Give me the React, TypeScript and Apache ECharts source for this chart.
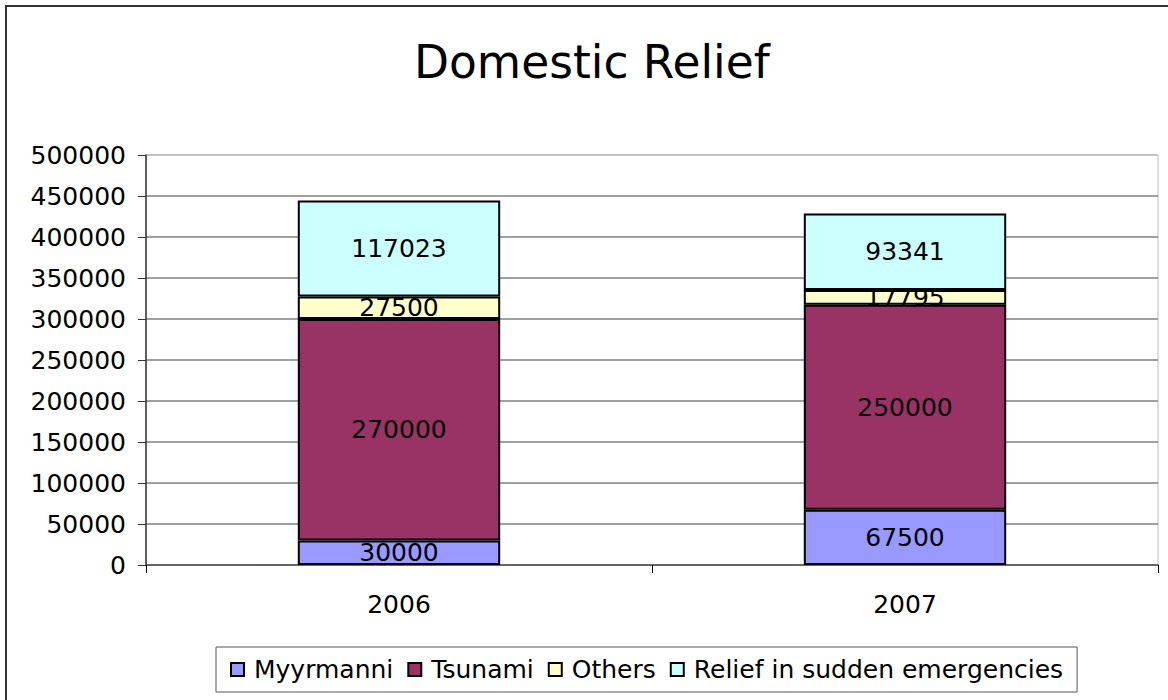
import React, { useEffect, useRef } from "react";
import * as echarts from "echarts";

const categories = ["2006", "2007"];
const seriesNames = ["Myyrmanni", "Tsunami", "Others", "Relief in sudden emergencies"];
const myyrmanni = [30000, 67500];
const tsunami = [270000, 250000];
const others = [27500, 17795];
const relief = [117023, 93341];
const seriesColors = ["#9999FF", "#993366", "#FFFFCC", "#CCFFFF"];
const yMin = 0;
const yMax = 500000;
const yInterval = 50000;

const FONT = "DejaVu Sans";

export default function App() {
  const ref = useRef<HTMLDivElement>(null);
  useEffect(() => {
    if (!ref.current) return;
    const chart = echarts.init(ref.current, null, { renderer: "svg" });
    const values = [myyrmanni, tsunami, others, relief];
    const gridColors = ["#808080", "#808080", "#808080", "#808080", "#808080", "#808080", "#808080", "#808080", "#808080", "#808080", "#b8b8b8"];
    chart.setOption({
      animation: false,
      backgroundColor: "#ffffff",
      textStyle: { fontFamily: FONT },
      title: {
        text: "Domestic Relief",
        left: 414,
        top: 39,
        padding: 0,
        textStyle: { fontFamily: FONT, fontSize: 45.5, fontWeight: "normal", color: "#000" },
      },
      graphic: [
        {
          type: "rect",
          shape: { x: 6, y: 6, width: 1180, height: 720 },
          style: { fill: "none", stroke: "#333", lineWidth: 2 },
          silent: true,
          z: 100,
        },
      ],
      grid: {
        left: 146,
        right: 10,
        top: 155,
        bottom: 135,
        show: true,
        borderColor: "#bdbdbd",
        borderWidth: 1,
        containLabel: false,
      },
      legend: {
        data: seriesNames,
        left: 216,
        top: 647,
        orient: "horizontal",
        padding: [10, 14, 10, 14],
        borderColor: "#555",
        borderWidth: 1,
        itemWidth: 13,
        itemHeight: 13,
        itemGap: 14,
        icon: "rect",
        textStyle: { fontFamily: FONT, fontSize: 25, color: "#000", padding: [0, 0, 0, 5] },
      },
      xAxis: {
        type: "category",
        data: categories,
        axisLine: { lineStyle: { color: "#555", width: 1.5 } },
        axisTick: { show: true, length: 8, inside: false, lineStyle: { color: "#000" } },
        axisLabel: { fontFamily: FONT, fontSize: 25, color: "#000", margin: 27 },
        splitLine: { show: false },
      },
      yAxis: {
        type: "value",
        min: yMin,
        max: yMax,
        interval: yInterval,
        axisLine: { show: true, lineStyle: { color: "#333", width: 1.5 } },
        axisTick: { show: true, length: 8, lineStyle: { color: "#333" } },
        axisLabel: {
          fontFamily: FONT,
          fontSize: 25,
          color: "#000",
          margin: 20,
          formatter: (v: number) => String(v),
        },
        splitLine: { show: true, lineStyle: { color: gridColors, width: 1.5 } },
      },
      series: seriesNames.map((name, i) => ({
        name,
        type: "bar",
        stack: "total",
        data: values[i],
        barCategoryGap: "60%",
        itemStyle: { color: seriesColors[i], borderColor: "#000", borderWidth: 2 },
        label: {
          show: true,
          position: "inside",
          fontFamily: FONT,
          fontSize: 25,
          color: "#000",
          formatter: (p: any) => String(p.value),
        },
      })),
    });
    return () => chart.dispose();
  }, []);
  return (
    <div
      ref={ref}
      style={{ position: "fixed", left: 0, top: 0, width: 1168, height: 700, background: "#fff" }}
    />
  );
}
